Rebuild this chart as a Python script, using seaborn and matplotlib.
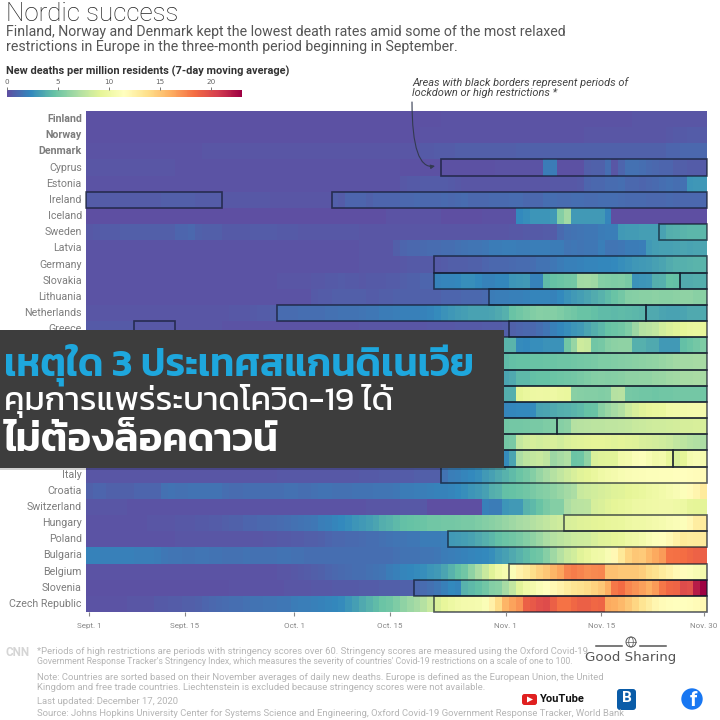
import matplotlib
matplotlib.use('Agg')
import matplotlib.pyplot as plt
from matplotlib.patches import Rectangle, FancyBboxPatch, Circle, Ellipse, Polygon
from matplotlib.colorbar import ColorbarBase
from matplotlib.colors import Normalize
import pandas as pd
import seaborn as sns

# rows hidden behind the banner have no readable name
countries = ['Finland', 'Norway', 'Denmark', 'Cyprus', 'Estonia', 'Ireland', 'Iceland', 'Sweden', 'Latvia',
             'Germany', 'Slovakia', 'Lithuania', 'Netherlands', 'Greece', '', '', '', '', '', '', '', '',
             'Italy', 'Croatia', 'Switzerland', 'Hungary', 'Poland', 'Bulgaria', 'Belgium', 'Slovenia',
             'Czech Republic']

# new deaths per million, one value per day, Sept. 1 - Nov. 30
finland = [.1,.1,.1,.1,.1,.1,.1,.1,.1,.1, .1,.1,.1,.1,.1,.1,.1,.1,.1,.1, .1,.1,.1,.1,.1,.1,.1,.1,.1,.1, .1,.1,.1,.1,.1,.1,.1,.1,.1,.1, .1,.1,.1,.1,.1,.1,.1,.1,.1,.1, .1,.1,.2,.2,.2,.2,.2,.2,.2,.2, .2,.2,.2,.2,.2,.2,.2,.2,.2,.2, .2,.2,.2,.2,.2,.2,.2,.2,.2,.2, .3,.3,.3,.3,.3,.3,.3,.3,.3,.3, .3]
norway = [.1,.1,.1,.1,.1,.1,.1,.1,.1,.1, .1,.1,.1,.1,.1,.1,.1,.1,.1,.1, .1,.1,.1,.1,.1,.1,.1,.1,.1,.1, .1,.1,.1,.1,.1,.1,.1,.1,.1,.1, .1,.1,.1,.1,.1,.1,.1,.1,.1,.2, .2,.2,.2,.2,.2,.2,.2,.2,.2,.2, .2,.2,.2,.2,.2,.2,.2,.2,.2,.2, .2,.2,.2,.3,.3,.3,.3,.3,.3,.3, .3,.3,.3,.3,.3,.4,.5,.5,.6,.6, .5]
denmark = [.2,.2,.2,.2,.2,.2,.2,.2,.2,.2, .2,.2,.2,.2,.2,.2,.2,.3,.3,.3, .3,.3,.3,.3,.3,.3,.3,.3,.3,.3, .3,.3,.3,.3,.3,.3,.3,.3,.3,.3, .3,.3,.3,.3,.3,.3,.3,.3,.3,.5, .5,.6,.6,.6,.7,.7,.7,.7,.7,.7, .7,.7,.7,.8,.8,.8,.8,.8,.8,.8, .8,.8,.8,.8,.8,.8,.8,.8,.8,.8, .8,.8,.8,.8,.8,.9,.9,1.,1.,1., 1.]
cyprus = [.3,.3,.3,.3,.3,.3,.3,.3,.3,.3, .3,.3,.3,.2,.2,.2,.2,.2,.2,.2, .2,.2,.2,.2,.2,.2,.2,.2,.2,.2, .2,.2,.2,.2,.2,.2,.2,.2,.2,.2, .2,.2,.2,.2,.2,.2,.1,.1,.1,.1, .1,.1,.1,.1,.1,.1,.1,.1,.1,.1, .2,.2,.2,.2,.2,.2,.2,1.8,1.8,.1, .1,.1,.1,.7,.8,.8,1.3,.3,.9,1.4, 1.4,1.3,1.1,1.,.9,.9,.7,.7,.6,.6, .5]
estonia = [.2,.2,.2,.2,.2,.2,.2,.2,.2,.2, .2,.2,.2,.2,.2,.2,.2,.2,.2,.2, .2,.2,.2,.2,.2,.2,.2,.2,.2,.2, .2,.2,.2,.2,.2,.2,.2,.2,.2,.2, .2,.2,.2,.2,.2,.2,.4,.5,.5,.6, .6,.6,.6,.5,.4,.3,.3,.3,.3,.3, .3,.3,.3,.3,.3,.3,.3,.3,.4,.4, .4,.4,.5,.9,1.,1.,1.2,1.2,1.3,1., 1.,.9,1.,1.1,1.3,1.4,1.3,1.4,2.8,2.9, 2.9]
ireland = [.6,.6,.6,.6,.6,.6,.6,.6,.6,.6, .6,.7,.7,.7,.7,.7,.6,.6,.6,.6, .4,.4,.4,.4,.4,.4,.4,.3,.3,.3, .3,.3,.3,.3,.3,.3,.7,.6,.9,.9, .9,.8,.9,.9,.9,.9,1.,1.,1.1,1., 1.,1.,1.1,1.,1.1,1.2,1.,1.,1.,1.1, 1.1,1.1,1.2,1.2,1.,1.,1.,1.3,1.3,1.2, 1.2,1.3,1.3,1.2,1.2,1.3,1.3,1.3,1.2,1.1, 1.1,1.1,1.,1.,1.,1.1,1.,1.,1.,1., 1.]
iceland = [0,0,0,0,0,0,0,0,0,0, 0,0,0,0,0,0,0,0,0,0, 0,0,0,0,0,0,0,0,0,0, 0,0,0,0,0,0,0,0,0,0, 0,0,0,0,.2,.2,.2,.2,.2,.2, .2,.2,0,0,0,0,0,0,.1,.1, .1,.1,.1,2.4,2.6,2.8,2.8,2.8,3.,5.6, 6.6,3.,3.,3.,3.,3.,2.2,0,0,0, 0,0,0,0,0,0,0,0,0,0, 0]
sweden = [.4,.5,.6,.6,.6,.7,.7,.7,.7,.7, .7,.7,.7,.9,.9,1.,.8,.7,.7,.7, .5,.5,.5,.5,.6,.6,.6,.6,.5,.5, .5,.4,.4,.4,.4,.4,.4,.4,.4,.4, .3,.3,.3,.3,.3,.3,.3,.3,.3,.3, .3,.3,.3,.3,.3,.3,.3,.3,.3,.3, .3,.3,.4,.4,.5,.5,.5,.6,.6,1.1, 1.4,1.5,1.6,1.7,1.7,1.8,1.9,1.9,3.,3.1, 3.1,3.2,3.2,3.2,3.4,3.8,3.9,4.1,4.2,4.2, 4.2]
latvia = [.2,.2,.2,.2,.2,.2,.2,.2,.2,.2, .2,.2,.2,.2,.2,.2,.2,.2,.2,.2, .2,.2,.2,.2,.2,.2,.2,.2,.2,.2, .2,.2,.2,.2,.2,.2,.2,.2,.2,.2, .3,.3,.3,.3,.3,.7,.9,1.,1.,1.1, 1.2,1.2,1.3,1.3,1.4,1.5,1.6,1.6,1.7,1.8, 1.8,1.9,1.9,1.8,1.8,1.9,1.9,1.9,1.8,1.8, 1.6,1.7,1.6,1.7,1.7,1.9,1.6,1.6,1.7,1.8, 1.8,1.9,3.,3.2,3.3,3.3,3.4,3.5,3.4,3.5, 3.5]
germany = [.2,.2,.2,.2,.2,.2,.2,.2,.2,.2, .2,.2,.2,.2,.2,.2,.2,.2,.2,.2, .2,.2,.2,.2,.2,.2,.2,.2,.2,.2, .2,.2,.2,.2,.2,.2,.2,.2,.2,.2, .3,.3,.3,.3,.3,.3,.4,.5,.5,.5, .5,.5,.6,.7,.7,.7,.8,.8,.9,1., 1.,1.,1.1,1.2,1.2,1.3,1.5,1.5,1.7,1.8, 2.,2.,2.1,2.2,2.2,2.3,2.3,2.4,2.6,2.7, 2.9,3.,3.1,3.3,3.5,3.7,3.9,3.9,4.,4.1, 4.1]
slovakia = [.2,.2,.2,.2,.2,.2,.2,.2,.2,.2, .2,.2,.2,.2,.2,.2,.2,.2,.2,.2, .2,.2,.2,.2,.2,.2,.2,.2,.3,.3, .3,.3,.3,.4,.4,.5,.5,.6,.5,.5, .4,.5,.5,.5,.6,.6,.7,.8,.8,.9, .9,2.1,2.2,2.2,2.3,2.6,2.6,2.4,2.1,2.1, 2.3,2.3,2.8,2.9,3.,2.1,2.1,4.4,4.6,4.8, 5.,5.1,6.6,6.7,6.5,5.6,5.5,5.4,5.5,5.3, 2.7,2.8,2.9,3.8,3.9,4.6,4.5,3.7,3.7,3.8, 3.8]
lithuania = [.2,.2,.2,.2,.2,.2,.2,.2,.2,.2, .2,.2,.2,.2,.2,.2,.2,.2,.2,.2, .2,.2,.2,.2,.2,.2,.2,.2,.2,.2, .2,.2,.2,.5,.6,.6,.7,.7,.7,.7, .7,.6,.6,.7,.7,.8,.8,.8,.8,.8, .8,.8,.9,.9,.9,1.,1.,1.,1.1,1.8, 1.9,1.9,2.,2.,2.1,2.2,2.2,2.2,2.1,2.4, 2.7,3.,3.2,3.5,3.7,4.,4.4,4.7,5.1,5.6, 5.7,5.8,5.8,5.9,5.8,5.8,5.9,6.,6.,5.8, 5.8]
netherlands = [.3,.3,.3,.3,.3,.3,.3,.3,.3,.3, .3,.3,.3,.3,.3,.3,.3,.3,.3,.3, .3,.4,.4,.4,.5,.6,.6,.7,1.2,1.2, 1.2,1.3,1.3,1.3,1.3,1.4,1.4,1.5,1.5,1.5, 1.6,1.7,1.7,1.8,1.8,1.9,2.,2.,2.,2.1, 2.2,2.5,2.7,2.9,3.1,3.2,3.4,3.4,3.4,3.5, 3.6,3.9,4.7,5.,5.3,5.5,5.7,5.6,5.6,5.4, 5.2,5.,4.7,4.7,4.5,4.4,4.4,4.3,4.4,4.3, 4.2,4.1,3.6,3.6,3.5,3.4,3.4,3.5,3.6,3.6, 3.6]
greece = [.5,.5,.5,.5,.5,.5,.5,.4,.4,.4, .4,.4,.4,.3,.3,.3,.3,.3,.3,.3, .2,.2,.2,.2,.2,.2,.2,.2,.2,.2, .2,.2,.2,.2,.2,.2,.2,.2,.2,.2, .3,.3,.3,.3,.3,.3,.3,.3,.3,.3, .4,.4,.4,.4,.5,.5,.5,.5,.6,.6, .6,.7,.8,.9,1.,1.,1.3,1.6,2.,2.3, 2.6,2.8,3.,3.5,3.8,4.2,4.6,4.8,5.,5.4, 6.4,7.3,7.5,7.8,8.4,8.8,9.,9.2,9.5,9.6, 9.4]
row14 = [.4,.4,.4,.4,.4,.4,.4,.4,.4,.4, .5,.5,.5,.5,.5,.5,.5,.5,.5,.5, .6,.6,.6,.6,.6,.6,.6,.6,.6,.6, .8,.8,.8,.8,.8,.8,.8,.8,.8,.8, 1.,1.,1.,1.,1.,1.,1.,1.,1.,1., 1.5,1.5,1.5,1.5,1.5,2.,2.,2.,3.,3.5, 4.,4.1,4.1,2.5,2.4,2.6,2.6,2.7,2.7,2.7, 5.,6.2,8.2,8.,5.,5.2,5.7,5.9,6.,6., 3.9,3.9,3.6,3.6,3.,3.,3.,4.5,4.8,5.1, 5.4]
row15 = [.4,.4,.4,.4,.4,.4,.4,.4,.4,.4, .5,.5,.5,.5,.5,.5,.5,.5,.5,.5, .6,.6,.6,.6,.6,.6,.6,.6,.6,.6, .9,.9,.9,.9,.9,.9,.9,.9,.9,.9, 1.5,1.5,1.5,1.5,1.5,1.5,1.5,1.5,1.5,1.5, 2.,2.,2.,2.5,2.5,3.,3.,3.5,3.5,4., 4.3,4.4,4.5,4.6,4.6,4.7,4.7,4.8,4.8,4.9, 4.9,5.,5.1,5.2,5.3,5.4,5.4,5.5,5.6,5.7, 5.8,5.9,6.,6.1,6.2,6.4,6.6,6.7,6.7,6.8, 6.8]
row16 = [.4,.4,.4,.4,.4,.4,.4,.4,.4,.4, .5,.5,.5,.5,.5,.5,.5,.5,.5,.5, .5,.5,.5,.5,.5,.5,.5,.5,.5,.5, .7,.7,.7,.7,.7,.7,.7,.7,.7,.7, 1.2,1.2,1.2,1.2,1.2,1.2,1.2,1.2,1.2,1.2, 1.8,1.8,1.8,2.,2.,2.2,2.4,2.6,2.8,3., 3.3,3.5,3.6,4.3,4.3,4.5,4.6,4.6,4.8,4.9, 5.,5.1,5.3,5.4,5.6,5.7,5.6,5.7,5.8,6., 6.,6.1,6.1,6.2,6.3,6.5,6.6,6.8,6.8,6.9, 6.8]
row17 = [.4,.4,.4,.4,.4,.4,.4,.4,.4,.4, .4,.4,.4,.4,.4,.4,.4,.4,.4,.4, .5,.5,.5,.5,.5,.5,.5,.5,.5,.5, .7,.7,.7,.7,.7,.7,.7,.7,.7,.7, 1.,1.,1.,1.,1.,1.,1.,1.,1.,1., 1.5,1.5,1.5,1.8,1.8,2.,2.,2.5,2.5,3., 3.6,3.8,3.8,9.2,9.6,9.8,9.9,9.8,9.9,9.7, 9.6,5.8,5.7,5.6,5.6,5.5,5.6,7.3,7.4,5.2, 5.1,5.,5.,4.9,5.,5.,5.1,5.1,5.1,5.1, 5.]
row18 = [.3,.3,.3,.3,.3,.3,.3,.3,.3,.3, .3,.3,.3,.3,.3,.3,.3,.3,.3,.3, .4,.4,.4,.4,.4,.4,.4,.4,.4,.4, .6,.6,.6,.6,.6,.6,.6,.6,.6,.6, .9,.9,.9,.9,.9,.9,.9,.9,.9,.9, 1.2,1.2,1.2,1.3,1.3,1.4,1.5,1.6,1.7,1.9, 2.1,2.2,2.3,2.4,2.4,2.5,3.4,3.5,3.6,3.8, 3.9,4.1,4.3,4.6,4.7,5.8,6.3,6.8,7.2,8.1, 8.7,9.,9.3,9.5,9.6,10.1,10.2,10.3,10.4,10.5, 10.5]
row19 = [.4,.4,.4,.4,.4,.4,.4,.4,.4,.4, .5,.5,.5,.5,.5,.5,.5,.5,.5,.5, .6,.6,.6,.6,.6,.6,.6,.6,.6,.6, .9,.9,.9,.9,.9,.9,.9,.9,.9,.9, 1.5,1.5,1.5,1.5,1.5,1.5,1.5,1.5,1.5,1.5, 2.,2.,2.,2.5,2.5,3.,3.,3.5,4.,4.5, 4.9,5.,5.1,5.1,5.2,5.3,5.3,5.4,5.5,5.7, 5.9,7.3,7.4,7.5,7.6,7.6,7.7,7.7,7.8,7.9, 8.,8.1,8.2,8.3,8.3,8.4,8.5,8.6,8.6,8.7, 8.6]
row20 = [.4,.4,.4,.4,.4,.4,.4,.4,.4,.4, .5,.5,.5,.5,.5,.5,.5,.5,.5,.5, .6,.6,.6,.6,.6,.6,.6,.6,.6,.6, .9,.9,.9,.9,.9,.9,.9,.9,.9,.9, 1.5,1.5,1.5,1.5,1.5,1.5,1.5,1.5,1.5,1.5, 2.,2.,2.,2.5,2.5,3.,3.,3.5,4.,4.5, 5.,5.1,5.3,7.9,8.3,8.6,8.4,8.6,8.7,8.4, 8.8,8.9,9.,9.1,9.2,9.2,9.1,9.,9.1,9., 8.9,8.7,8.6,8.5,8.3,8.1,7.8,7.6,7.3,7.1, 7.]
row21 = [.4,.4,.4,.4,.4,.4,.4,.4,.4,.4, .5,.5,.5,.5,.5,.5,.5,.5,.5,.5, .6,.6,.6,.6,.6,.6,.6,.6,.6,.6, .9,.9,.9,.9,.9,.9,.9,.9,.9,.9, 1.5,1.5,1.5,1.5,1.5,1.5,1.5,1.5,1.5,1.5, 2.,2.,2.,2.2,2.2,2.4,2.4,2.4,2.5,2.5, 2.4,2.5,3.5,7.,7.6,7.9,8.,7.7,6.4,6.8, 7.1,4.8,4.9,6.,8.8,8.9,9.,9.,10.2,10.4, 11.,11.2,10.7,10.2,10.4,9.4,8.8,9.2,10.6,10.8, 10.6]
italy = [.3,.3,.3,.3,.3,.3,.3,.3,.3,.3, .3,.3,.3,.3,.3,.3,.3,.3,.3,.3, .3,.3,.3,.3,.3,.3,.3,.3,.4,.4, .4,.4,.4,.4,.4,.4,.4,.4,.4,.4, .5,.5,.5,.6,.6,.6,.6,.6,.7,.7, .7,.7,1.5,1.9,2.,2.2,2.4,2.6,3.,3.3, 3.6,4.,4.4,4.8,5.2,5.6,6.2,6.8,7.3,7.8, 8.2,8.7,9.,9.2,9.6,10.,10.3,10.5,10.7,10.9, 11.,11.1,11.2,11.2,11.3,11.3,11.4,11.5,11.6,11.7, 11.8]
croatia = [.8,.9,.9,.8,.8,.8,.8,.9,.9,.9, .9,1.4,1.5,1.4,1.4,1.5,1.5,1.5,1.5,1.5, 1.3,1.2,1.2,1.3,1.3,1.3,1.3,1.3,1.3,1.4, 1.4,1.3,1.3,1.4,1.5,1.5,1.4,1.4,1.4,1.5, 1.5,1.5,1.6,1.6,1.6,1.7,1.8,1.8,1.9,1.9, 2.,2.1,2.1,2.2,2.4,2.6,2.8,3.,3.3,3.8, 4.,4.5,4.6,4.8,5.,5.3,5.5,5.7,6.,6.3, 6.7,7.,8.,8.2,8.4,8.6,8.8,8.9,9.,9.2, 9.4,9.6,9.8,10.,10.3,10.6,10.8,11.2,11.8,12.3, 13.]
switzerland = [.3,.3,.3,.3,.3,.3,.2,.2,.2,.2, .2,.2,.2,.2,.2,.2,.2,.2,.2,.2, .2,.2,.2,.2,.2,.2,.2,.2,.2,.2, .2,.2,.2,.2,.2,.2,.2,.2,.2,.2, .2,.3,.3,.3,.3,.3,.4,.4,.4,.4, 0,0,0,0,0,0,0,0,2.,1.8, 1.8,2.8,3.,3.,4.,4.3,4.7,5.3,5.6,5.6, 7.,7.4,7.5,7.6,8.6,8.8,9.,9.2,9.4,9.6, 9.8,9.9,10.,10.1,10.2,10.2,10.,9.8,9.3,9.2, 9.1]
hungary = [.2,.2,.2,.2,.2,.2,.2,.2,.2,.3, .3,.3,.3,.4,.4,.4,.5,.5,.6,.6, .7,.8,.8,.9,.9,1.,1.,1.1,1.2,1.3, 1.4,1.5,1.6,1.7,1.9,2.,2.2,2.4,2.6,2.8, 3.,3.2,3.5,3.8,4.,4.3,4.5,4.6,4.7,4.8, 5.,5.,5.1,5.1,5.2,5.3,5.3,5.4,5.6,5.8, 6.,6.2,6.5,6.8,7.,7.2,7.5,7.8,8.1,8.3, 8.7,8.8,8.9,9.,9.1,9.2,9.4,9.5,9.6,9.8, 10.,10.,10.2,10.4,10.6,10.8,11.,11.2,12.,12.8, 13.]
poland = [.2,.2,.2,.2,.2,.2,.2,.2,.2,.2, .2,.2,.2,.3,.3,.3,.3,.3,.3,.3, .3,.3,.3,.3,.3,.3,.4,.4,.5,.5, .6,.6,.7,.7,.8,.9,1.,1.,1.1,1.1, 1.2,1.3,1.3,1.4,1.5,1.6,1.6,1.7,1.7,1.8, 1.8,1.8,1.9,3.,3.1,3.2,3.4,3.6,3.9,4.2, 4.5,4.8,5.,5.3,5.6,6.,6.4,7.,7.3,7.6, 7.9,8.1,8.2,8.3,8.7,8.9,9.,9.2,9.4,9.8, 10.,10.4,10.8,11.2,11.6,12.,12.6,13.2,13.,13.1, 13.]
bulgaria = [2.1,2.1,2.,2.,2.,2.,2.,1.9,1.9,1.9, 1.8,1.7,1.6,1.6,1.5,1.5,1.6,1.6,1.5,1.5, 1.4,1.4,1.4,1.5,1.4,1.4,1.4,1.4,1.5,1.5, 1.4,1.4,1.3,1.3,1.3,1.3,1.3,1.3,1.3,1.3, 1.3,1.3,1.3,1.3,1.3,1.4,1.5,1.5,1.5,1.6, 1.6,1.7,1.8,1.9,2.,2.1,2.2,2.3,2.4,2.6, 3.,3.3,3.6,4.,4.4,4.8,5.,5.7,6.5,7.3, 8.,8.4,9.,9.5,10.,10.2,10.8,12.,13.2,14.3, 15.,14.8,15.6,16.2,16.8,18.2,18.3,18.4,18.6,18.9, 19.]
belgium = [.2,.2,.2,.2,.2,.2,.2,.2,.2,.2, .2,.2,.2,.2,.2,.2,.2,.2,.2,.2, .2,.2,.2,.2,.2,.2,.2,.2,.3,.3, .4,.5,.6,.7,.8,.9,1.,1.1,1.2,1.3, 1.3,1.4,1.5,1.6,1.8,2.,2.2,2.3,2.5,2.6, 2.8,3.,3.5,4.,4.5,5.,6.,7.,8.,9., 10.,10.6,11.,12.4,13.,13.8,14.4,15.,15.8,16.4, 17.6,17.8,17.6,17.2,17.4,17.5,15.2,15.2,15.,15., 15.,14.6,14.,13.6,13.,12.5,12.,11.6,11.2,10.8, 10.5]
slovenia = [.1,.1,.1,.1,.1,.1,.1,.1,.1,.1, .1,.1,.1,.1,.1,.1,.1,.1,.1,.1, .1,.2,.2,.2,.2,.2,.2,.2,.2,.3, .3,.3,.3,.4,.4,.4,.5,.5,.5,.5, .6,.6,.6,.7,.7,.7,.8,.8,1.,1.2, 1.4,1.7,2.,2.4,2.2,4.,4.3,4.5,5.,5.6, 5.8,6.8,7.8,9.,10.,10.5,11.,11.5,12.,12.4, 13.,13.4,13.6,14.,14.4,15.,16.,18.,18.5,17.5, 17.,16.6,16.,16.8,18.,18.6,18.8,20.,19.8,22., 23.]
czech = [.2,.2,.2,.2,.2,.2,.3,.3,.3,.3, .5,.5,.6,.6,.7,.7,.8,.9,1.,1.1, 1.2,1.3,1.3,1.4,1.5,1.5,1.6,1.6,1.7,1.7, 1.8,1.9,1.9,2.,2.1,2.2,2.3,2.5,2.8,3.2, 3.6,4.,4.4,4.8,5.,5.4,6.,6.4,6.8,7.3, 8.,8.8,9.4,9.8,10.2,10.4,10.5,10.6,11.,12.5, 14.,15.8,16.5,17.,19.,19.4,19.8,20.,19.,18.2, 18.2,18.6,19.,19.,18.6,18.8,16.2,16.,15.6,15., 14.2,13.4,12.8,12.2,11.8,11.6,11.5,11.5,11.6,11.8, 12.]

row_values = [finland, norway, denmark, cyprus, estonia, ireland, iceland, sweden, latvia, germany, slovakia,
              lithuania, netherlands, greece, row14, row15, row16, row17, row18, row19, row20, row21, italy,
              croatia, switzerland, hungary, poland, bulgaria, belgium, slovenia, czech]
assert all(len(r) == 91 for r in row_values)

tick_days = [0, 14, 30, 44, 61, 75, 90]
tick_labels = ['Sept. 1', 'Sept. 15', 'Oct. 1', 'Oct. 15', 'Nov. 1', 'Nov. 15', 'Nov. 30']
legend_ticks = [0, 5, 10, 15, 20]

# lockdown / high restriction periods: row, first day, end day
periods = [(3, 52, 91), (5, 0, 20), (5, 36, 91), (7, 84, 91), (9, 51, 91), (10, 51, 87), (10, 87, 91),
           (11, 59, 91), (12, 28, 82), (12, 82, 91), (13, 7, 13), (13, 62, 91), (14, 40, 91), (15, 40, 91),
           (16, 40, 91), (17, 40, 91), (18, 40, 91), (19, 40, 69), (19, 69, 91), (20, 40, 91), (21, 40, 86),
           (21, 86, 91), (22, 52, 91), (25, 70, 91), (26, 53, 91), (28, 62, 91), (29, 48, 91), (30, 51, 91)]

df = pd.DataFrame(row_values, index=range(len(countries)))

W = 720.0
fig = plt.figure(figsize=(7.2, 7.2), dpi=100)
ax = fig.add_axes([86 / W, 1 - 612 / W, 621 / W, 501 / W])
sns.heatmap(df, cmap='Spectral_r', vmin=0, vmax=23, cbar=False, ax=ax, linewidths=0, rasterized=True)

for row, start, end in periods:
    ax.add_patch(Rectangle((start, row), end - start, 1, fill=False, ec='#10182a', alpha=0.68, lw=1.2,
                           clip_on=False))

ax.set_xticks([d + 0.5 for d in tick_days])
ax.set_xticklabels(tick_labels, rotation=0, fontsize=5.8, color='#888888', family='Roboto')
ax.tick_params(axis='x', length=3, width=0.8, color='#888888', pad=5)
ax.set_yticks([i + 0.5 for i in range(len(countries))])
ax.set_yticklabels(countries, rotation=0, fontsize=7.7, color='#7d7d7d', family='Roboto')
ax.tick_params(axis='y', length=0, pad=3)
for lab in ax.get_yticklabels()[:3]:
    lab.set_fontweight('bold')
ax.set_xlabel('')
ax.set_ylabel('')

# colour legend
cax = fig.add_axes([7 / W, 1 - 97 / W, 234.5 / W, 7 / W])
cb = ColorbarBase(cax, cmap=plt.get_cmap('Spectral_r'), norm=Normalize(0, 23), orientation='horizontal')
cb.set_ticks(legend_ticks)
cb.outline.set_visible(False)
cax.xaxis.set_ticks_position('top')
cax.tick_params(axis='x', length=2.5, width=0.7, color='#777777', labelsize=5.2, labelcolor='#666666', pad=1)

# everything else in pixel coordinates
ov = fig.add_axes([0, 0, 1, 1], zorder=5)
ov.set_xlim(0, 720)
ov.set_ylim(720, 0)
ov.axis('off')
ov.patch.set_alpha(0)

ov.text(6, 14, 'Nordic success', fontsize=18.7, family='Roboto', fontweight='light', color='#222222', va='center')
ov.text(6, 32, 'Finland, Norway and Denmark kept the lowest death rates amid some of the most relaxed',
        fontsize=10.2, family='Roboto', color='#555555', va='center')
ov.text(6, 47, 'restrictions in Europe in the three-month period beginning in September.',
        fontsize=10.2, family='Roboto', color='#555555', va='center')
ov.text(6, 71, 'New deaths per million residents (7-day moving average)', fontsize=7.9, family='Roboto',
        fontweight='bold', color='#333333', va='center')
ov.text(412, 83, 'Areas with black borders represent periods of', fontsize=7.9, family='Roboto',
        style='italic', color='#444444', va='center')
ov.text(412, 93, 'lockdown or high restrictions *', fontsize=7.9, family='Roboto', style='italic',
        color='#444444', va='center')
ov.annotate('', xy=(435, 166), xytext=(412, 102),
            arrowprops=dict(arrowstyle='-|>', color='#333a50', lw=0.8, mutation_scale=6,
                            connectionstyle='angle3,angleA=90,angleB=10', shrinkA=0, shrinkB=0))

# footer
ov.text(6, 652, 'CNN', fontsize=8.5, fontweight='bold', color='#d5d5d5', va='center', family='Roboto')
foot = [(651, 6.8, '*Periods of high restrictions are periods with stringency scores over 60. Stringency scores are measured using the Oxford Covid-19'),
        (662, 6.3, "Government Response Tracker's Stringency Index, which measures the severity of countries' Covid-19 restrictions on a scale of one to 100."),
        (677, 6.8, 'Note: Countries are sorted based on their November averages of daily new deaths. Europe is defined as the European Union, the United'),
        (688, 6.8, 'Kingdom and free trade countries. Liechtenstein is excluded because stringency scores were not available.'),
        (702, 6.8, 'Last updated: December 17, 2020'),
        (714, 6.8, 'Source: Johns Hopkins University Center for Systems Science and Engineering, Oxford Covid-19 Government Response Tracker, World Bank')]
for y, size, line in foot:
    ov.text(37, y, line, fontsize=size, family='Roboto', color='#b5b5b5', va='center')

# Good Sharing mark
ov.plot([596, 622], [646, 646], color='#555555', lw=1.1)
ov.plot([640, 666], [646, 646], color='#555555', lw=1.1)
ov.add_patch(Circle((631, 642), 5, fill=False, ec='#555555', lw=0.7))
ov.add_patch(Ellipse((631, 642), 4.5, 10, fill=False, ec='#555555', lw=0.5))
ov.plot([626, 636], [642, 642], color='#555555', lw=0.5)
ov.text(631, 658, 'Good Sharing', fontsize=9.6, family='DejaVu Sans', color='#555555', ha='center', va='center')

# social icons
ov.add_patch(FancyBboxPatch((522, 694), 15, 11, boxstyle='round,pad=0,rounding_size=2.5', fc='#e02020', ec='none'))
ov.add_patch(Polygon([(527, 696.5), (527, 702.5), (533, 699.5)], fc='white', ec='none'))
ov.text(539.5, 699.5, 'YouTube', fontsize=8, fontweight='bold', family=['Liberation Sans Narrow', 'Roboto'],
        color='#111111', va='center')
ov.add_patch(FancyBboxPatch((617, 689), 19, 21, boxstyle='round,pad=0,rounding_size=3', fc='#0a5ca8', ec='none'))
ov.text(626.5, 698.5, 'B', fontsize=11, fontweight='bold', family='Roboto', color='white', ha='center', va='center')
ov.add_patch(Circle((692, 699), 10.7, fc='#1877f2', ec='none'))
ov.text(693, 700.5, 'f', fontsize=15, fontweight='bold', family='Roboto', color='white', ha='center', va='center')

# banner
thai = ['Kanit', 'Prompt', 'Bai Jamjuree', 'DejaVu Sans']
ov.add_patch(Rectangle((0, 467), 506, 3, fc='#000000', ec='none', alpha=0.18))
ov.add_patch(Rectangle((0, 330), 504, 137.5, fc='#3d3d3d', ec='none'))
ov.text(4, 375, 'เหตุใด 3 ประเทศสแกนดิเนเวีย', fontsize=27.9, family=thai, fontweight='semibold', color='#1ea7dd',
        va='baseline')
ov.text(4, 410, 'คุมการแพร่ระบาดโควิด-19 ได้', fontsize=24, family=thai, fontweight='normal', color='white',
        va='baseline')
ov.text(4, 451, 'ไม่ต้องล็อคดาวน์', fontsize=29, family=thai, fontweight='semibold', color='white', va='baseline')

fig.savefig('out.png', dpi=100)
